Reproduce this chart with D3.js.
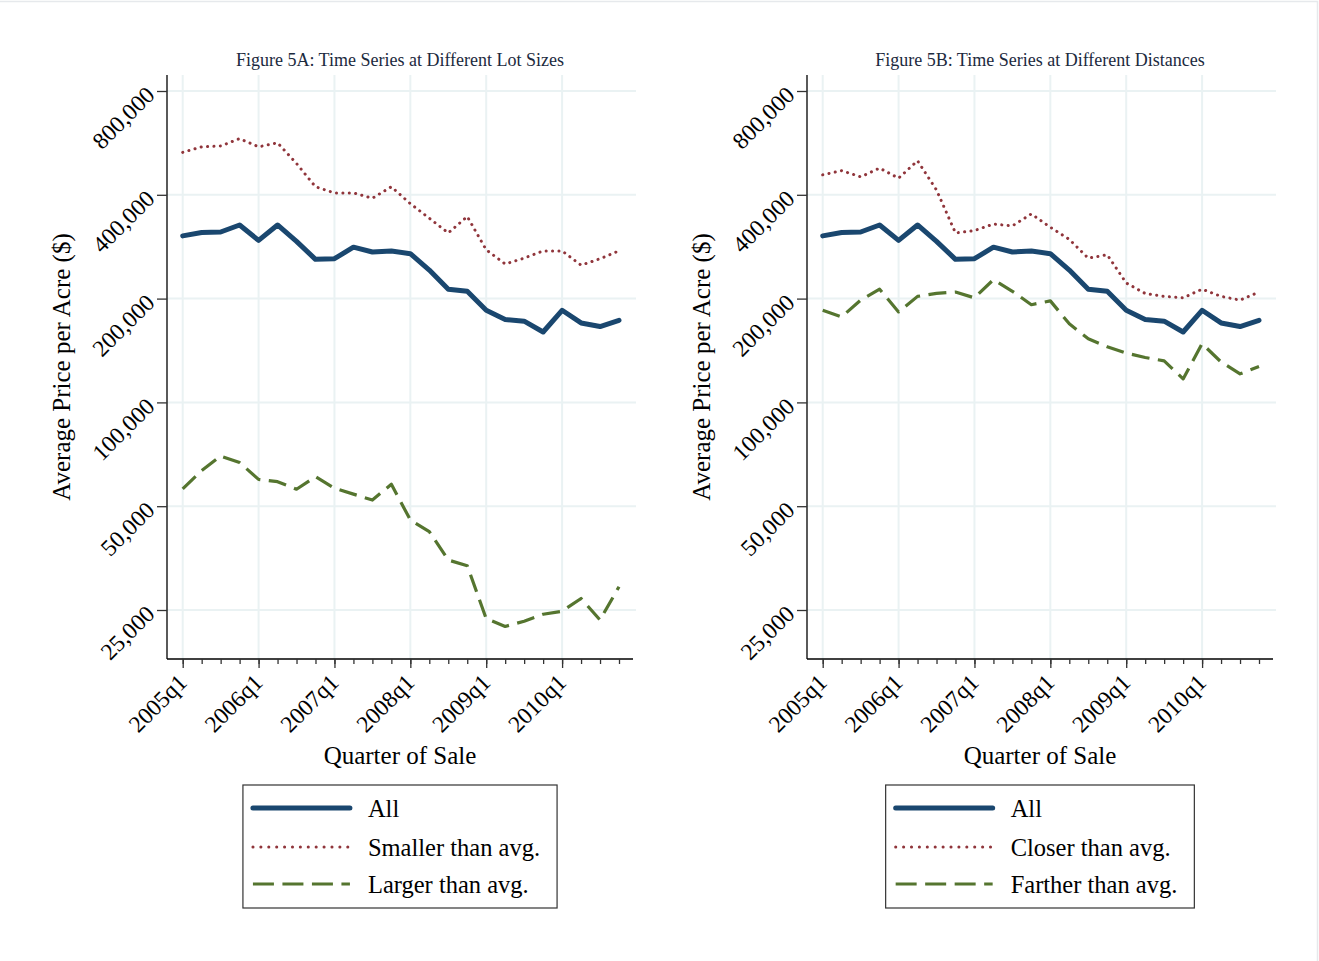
<!DOCTYPE html>
<html>
<head>
<meta charset="utf-8">
<script src="https://cdn.jsdelivr.net/npm/d3@7"></script>
<style>
  html, body { margin: 0; padding: 0; background: #ffffff; }
  svg { display: block; }
  text { font-family: "Liberation Serif", "Times New Roman", serif; }
</style>
</head>
<body>
<svg id="chart" width="1319" height="961"></svg>
<script>
// Quarters of sale, 2005q1 through 2010q4
const quarters = [
  "2005q1","2005q2","2005q3","2005q4",
  "2006q1","2006q2","2006q3","2006q4",
  "2007q1","2007q2","2007q3","2007q4",
  "2008q1","2008q2","2008q3","2008q4",
  "2009q1","2009q2","2009q3","2009q4",
  "2010q1","2010q2","2010q3","2010q4"
];
const xTickLabels = ["2005q1","2006q1","2007q1","2008q1","2009q1","2010q1"];
const yTickValues = [25000, 50000, 100000, 200000, 400000, 800000];

// Average price per acre, all parcels
const allParcels = [
  304000, 311000, 312000, 327000, 295000, 327000, 293000, 260000,
  261000, 282000, 273000, 275000, 270000, 242000, 213000, 210000,
  185000, 174000, 172000, 160000, 185000, 170000, 166000, 173000
];
// Figure 5A: by lot size
const smallerLots = [
  531000, 551000, 554000, 582000, 551000, 566000, 493000, 422000,
  405000, 405000, 391000, 422000, 377000, 342000, 310000, 346000,
  277000, 252000, 262000, 275000, 275000, 250000, 261000, 275000
];
const largerLots = [
  56100, 63400, 69900, 66900, 59800, 58900, 56000, 60900,
  56400, 54200, 52100, 57900, 45600, 42200, 34900, 33600,
  23600, 22400, 23200, 24300, 24800, 27000, 23400, 29200
];
// Figure 5B: by distance
const closerParcels = [
  457000, 470000, 451000, 478000, 447000, 502000, 413000, 310000,
  315000, 329000, 325000, 352000, 322000, 297000, 262000, 268000,
  222000, 207000, 203000, 201000, 213000, 203000, 198000, 209000
];
const fartherParcels = [
  185000, 177000, 198000, 213000, 183000, 203000, 207000, 209000,
  201000, 227000, 210000, 192000, 197000, 169000, 153000, 145000,
  139000, 135000, 132000, 117000, 148000, 131000, 121000, 127000
];

const panelTitles = [
  "Figure 5A: Time Series at Different Lot Sizes",
  "Figure 5B: Time Series at Different Distances"
];
const legendLabelsA = ["All", "Smaller than avg.", "Larger than avg."];
const legendLabelsB = ["All", "Closer than avg.", "Farther than avg."];

const COLORS = { navy: "#1a476f", maroon: "#90353b", green: "#55752f", grid: "#eaf2f3", title: "#1c2a3e" };

const styles = [
  { color: COLORS.navy,   width: 5,   dash: null,   cap: "round" },
  { color: COLORS.maroon, width: 3,   dash: "0.1,6.3", cap: "round" },
  { color: COLORS.green,  width: 3.2, dash: "18,8.5", cap: "butt" }
];
const legendDash = [null, "0.1,7.8", "21,8.5"];

const panels = [
  { dx: 0,   title: panelTitles[0], series: [allParcels, smallerLots, largerLots],   legend: legendLabelsA },
  { dx: 640, title: panelTitles[1], series: [allParcels, closerParcels, fartherParcels], legend: legendLabelsB }
];

const svg = d3.select("#chart");
const fmt = d3.format(",");

// faint outer frame along the top and right edges
svg.append("path").attr("d", "M0,1.5H1317.5V961")
  .attr("fill", "none").attr("stroke", "#e6e9ec").attr("stroke-width", 1.5);

panels.forEach(p => {
  const g = svg.append("g").attr("transform", `translate(${p.dx},0)`);

  const left = 167, right = 633, top = 75, bottom = 659;
  const x = d3.scaleLinear().domain([0, quarters.length - 1]).range([182.7, 619.0]);
  const y = d3.scaleLog().base(2).domain([25000, 800000]).range([610, 91]);

  // grid
  g.append("g").selectAll("line.h").data(yTickValues).join("line")
    .attr("x1", left).attr("x2", right + 3)
    .attr("y1", d => y(d)).attr("y2", d => y(d))
    .attr("stroke", COLORS.grid).attr("stroke-width", 2);
  g.append("g").selectAll("line.v").data(xTickLabels).join("line")
    .attr("x1", d => x(quarters.indexOf(d))).attr("x2", d => x(quarters.indexOf(d)))
    .attr("y1", top).attr("y2", bottom)
    .attr("stroke", COLORS.grid).attr("stroke-width", 2);

  // y axis
  const yAxis = d3.axisLeft(y).tickValues(yTickValues).tickSize(10).tickFormat(fmt);
  const ya = g.append("g").attr("transform", `translate(${left},0)`).call(yAxis);
  ya.select(".domain").attr("d", `M0,${top}V${bottom}`).attr("stroke", "#000").attr("stroke-width", 1.3);
  ya.selectAll(".tick line").attr("stroke", "#333").attr("stroke-width", 1.3);
  ya.selectAll(".tick text")
    .attr("x", null).attr("dy", null)
    .attr("transform", "translate(-11,5) rotate(-45)")
    .attr("text-anchor", "end")
    .attr("font-size", 23.5)
    .attr("font-family", "Liberation Serif, serif")
    .attr("fill", "#000");

  // x axis: quarterly minor ticks, yearly labels
  const xAxisMinor = d3.axisBottom(x).tickValues(d3.range(quarters.length)).tickSize(5).tickFormat("");
  const xm = g.append("g").attr("transform", `translate(0,${bottom})`).call(xAxisMinor);
  xm.select(".domain").attr("d", `M${left},0H${right}`).attr("stroke", "#000").attr("stroke-width", 1.3);
  xm.selectAll(".tick line").attr("stroke", "#333").attr("stroke-width", 1.3);

  const xAxisMajor = d3.axisBottom(x)
    .tickValues(xTickLabels.map(d => quarters.indexOf(d)))
    .tickSize(9).tickFormat(i => quarters[i]);
  const xa = g.append("g").attr("transform", `translate(0,${bottom})`).call(xAxisMajor);
  xa.select(".domain").remove();
  xa.selectAll(".tick line").attr("stroke", "#333").attr("stroke-width", 1.3);
  xa.selectAll(".tick text")
    .attr("y", null).attr("dy", null)
    .attr("transform", "translate(5,25) rotate(-45)")
    .attr("text-anchor", "end")
    .attr("font-size", 23.5)
    .attr("font-family", "Liberation Serif, serif")
    .attr("fill", "#000");

  // series lines (drawn back to front: dashed, dotted, solid)
  const line = d3.line().x((d, i) => x(i)).y(d => y(d));
  [2, 1, 0].forEach(k => {
    const s = styles[k];
    g.append("path")
      .datum(p.series[k])
      .attr("d", line)
      .attr("fill", "none")
      .attr("stroke", s.color)
      .attr("stroke-width", s.width)
      .attr("stroke-linecap", s.cap)
      .attr("stroke-linejoin", "round")
      .attr("stroke-dasharray", s.dash);
  });

  // titles
  g.append("text").attr("x", 400).attr("y", 66).attr("text-anchor", "middle")
    .attr("font-size", 18).attr("fill", COLORS.title).text(p.title);
  g.append("text").attr("x", 400).attr("y", 764).attr("text-anchor", "middle")
    .attr("font-size", 25).attr("fill", "#000").text("Quarter of Sale");
  g.append("text").attr("transform", "translate(70,367) rotate(-90)").attr("text-anchor", "middle")
    .attr("font-size", 25).attr("fill", "#000").text("Average Price per Acre ($)");

  // legend
  const lg = g.append("g");
  const rowY = [808, 847, 884];
  const texts = lg.selectAll("text").data(p.legend).join("text")
    .attr("y", (d, i) => rowY[i] + 9)
    .attr("font-size", 24.5).attr("fill", "#000").text(d => d);
  let maxW = 0;
  texts.each(function () { maxW = Math.max(maxW, this.getComputedTextLength()); });
  const boxW = 125 + maxW + 17;
  const boxL = 400 - boxW / 2;
  texts.attr("x", boxL + 125);
  lg.insert("rect", "text")
    .attr("x", boxL).attr("y", 785).attr("width", boxW).attr("height", 123)
    .attr("fill", "#fff").attr("stroke", "#333").attr("stroke-width", 1.2);
  lg.selectAll("line").data(styles).join("line")
    .attr("x1", boxL + 10).attr("x2", boxL + 107)
    .attr("y1", (d, i) => rowY[i]).attr("y2", (d, i) => rowY[i])
    .attr("stroke", d => d.color).attr("stroke-width", d => d.width)
    .attr("stroke-linecap", d => d.cap)
    .attr("stroke-dasharray", (d, i) => legendDash[i]);
});
</script>
</body>
</html>
